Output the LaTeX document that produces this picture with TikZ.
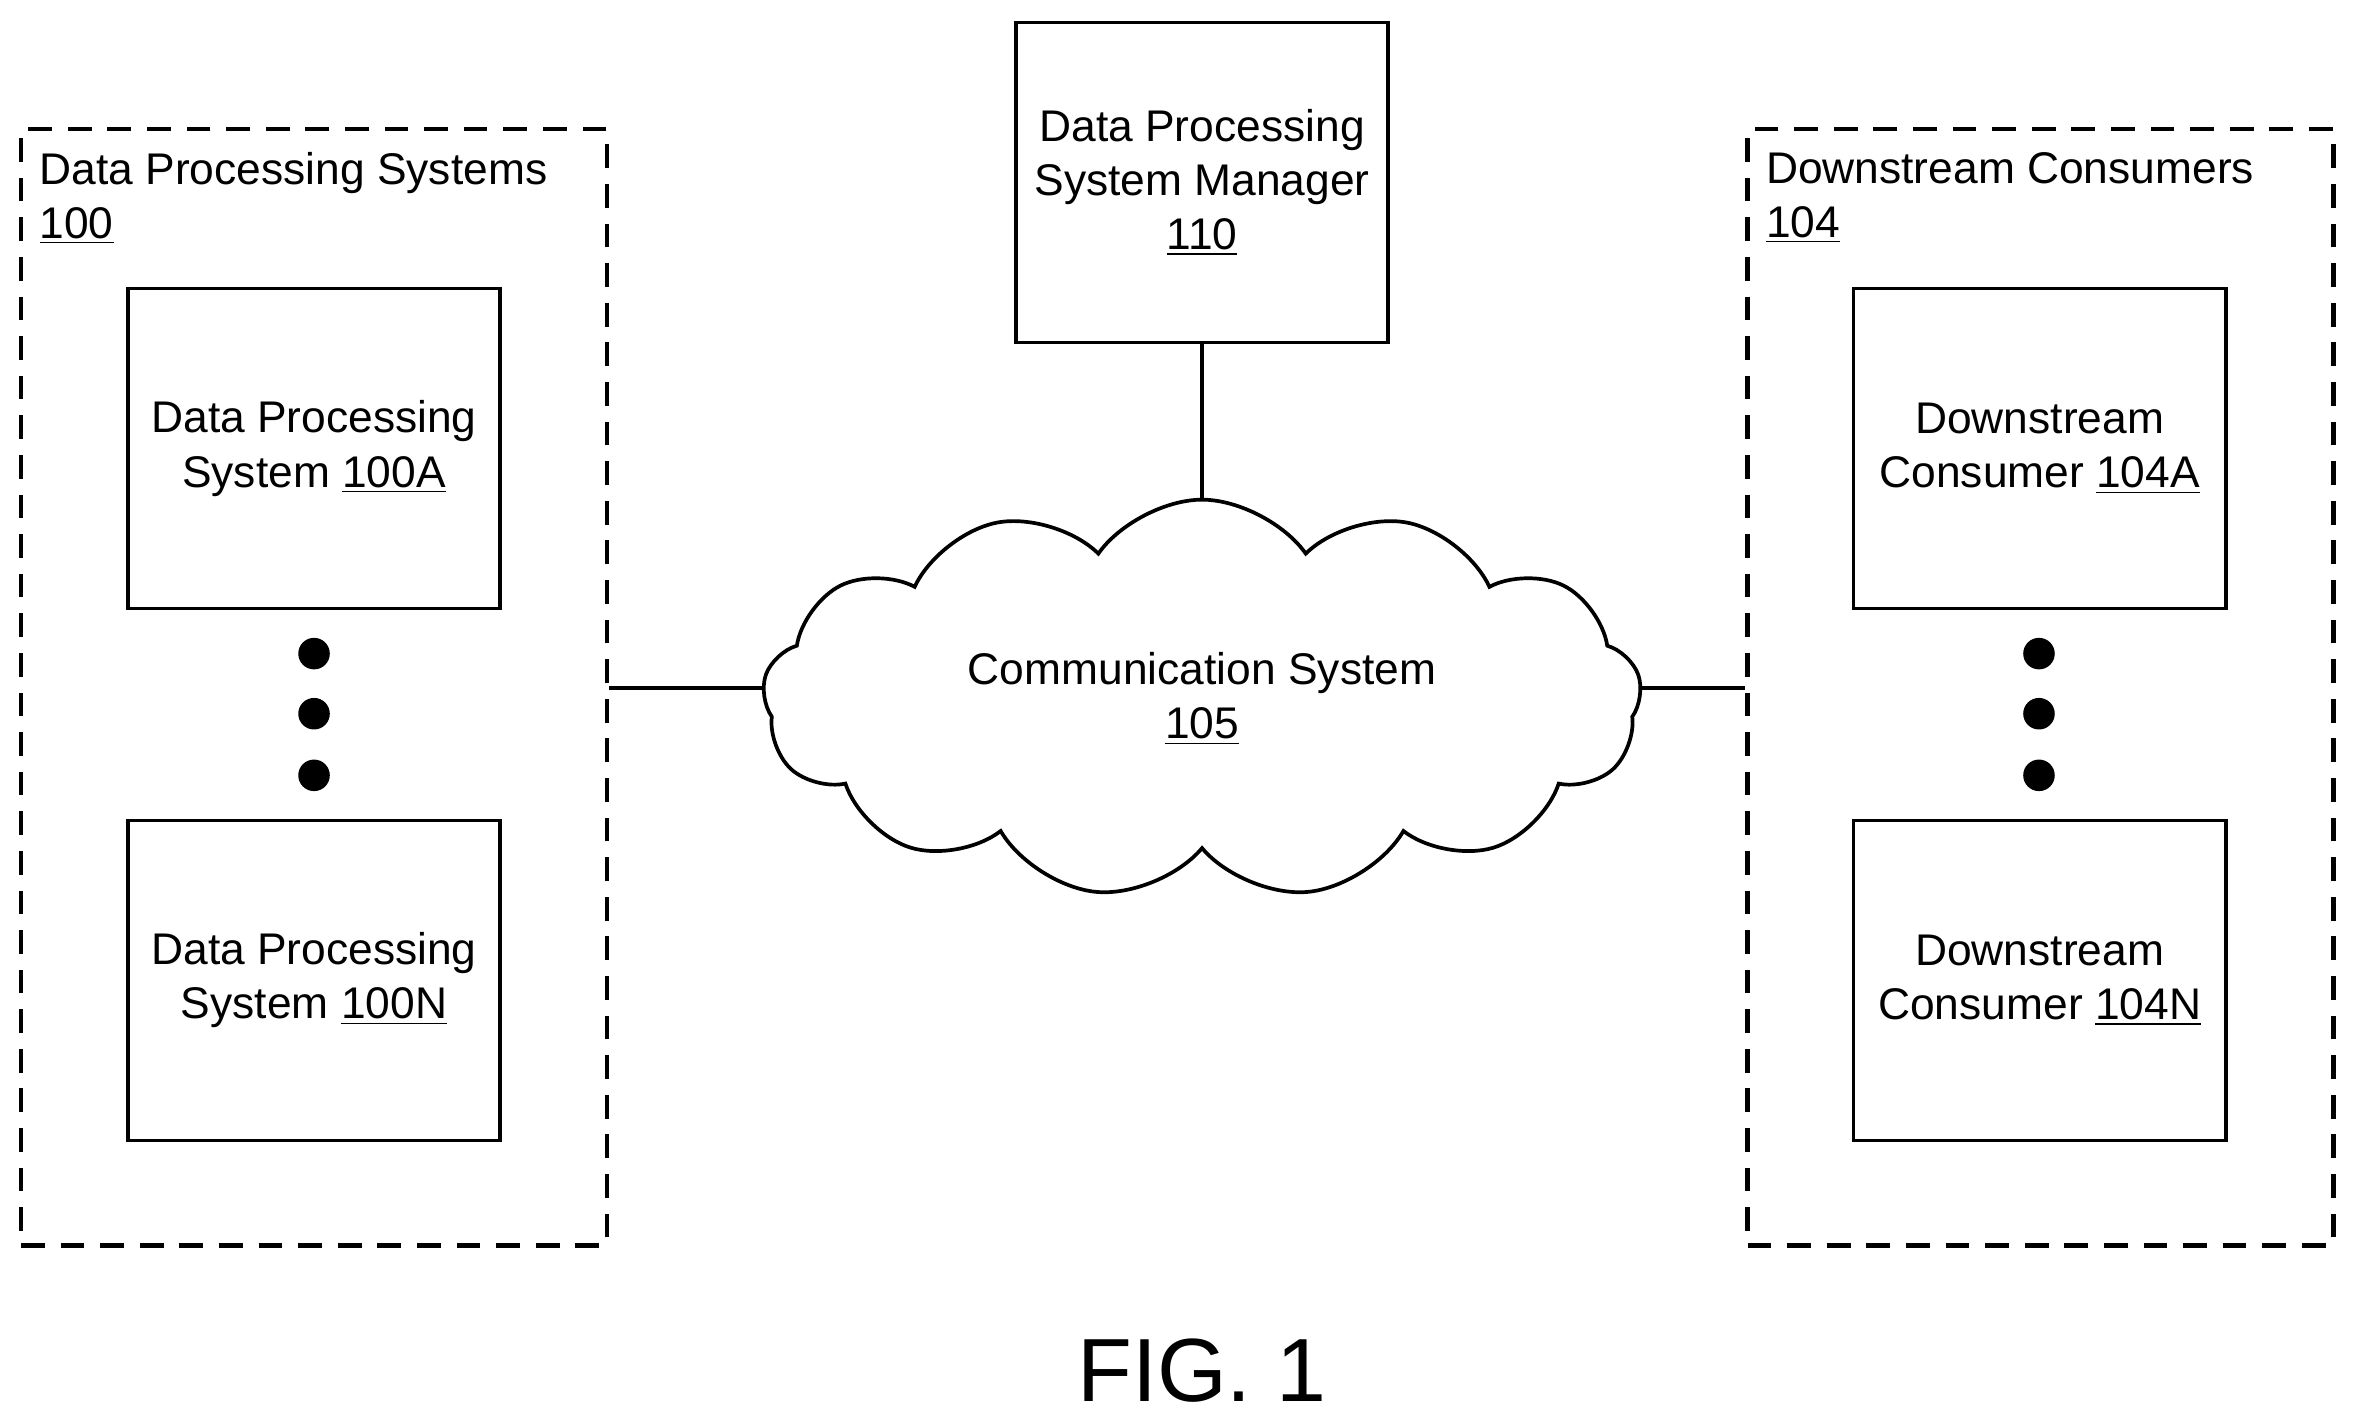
\documentclass[tikz,border=0pt]{standalone}
\usepackage{fontspec}
\setmainfont{Liberation Sans}
\usetikzlibrary{shapes.symbols}
\tikzset{
  box/.style={draw,line width=1.4pt,minimum width=4.96cm,minimum height=4.26cm,align=center,font=\fontsize{16.8}{20.5}\selectfont},
  group/.style={draw,dashed,dash pattern=on 9pt off 6pt,line width=1.6pt,minimum width=7.8cm,minimum height=14.86cm},
  dot/.style={circle,fill,inner sep=0pt,minimum size=0.42cm},
  label/.style={anchor=north west,align=left,inner sep=0pt,font=\fontsize{16.8}{20.5}\selectfont}
}
\begin{document}
\begin{tikzpicture}[x=0.02cm,y=-0.02cm]
\useasboundingbox (0,0) rectangle (1568,950);
%		left group
		\node[group] (dps) at (209,457.5) {};
		\node[label] (dpsl) at (26,101) {Data Processing Systems\\\underline{100}};
		\node[box] (dpsa) at (209,298.5) {Data Processing\\System \underline{100A}};
		\node[box] (dpsn) at (209,652.5) {Data Processing\\System \underline{100N}};
		\foreach \y in {435,475,516} \node[dot] at (209,\y) {};
%		right group
		\node[group] (dc) at (1358,457.5) {};
		\node[label] (dcl) at (1175,101) {Downstream Consumers\\\underline{104}};
		\node[box] (dca) at (1357.5,298.5) {Downstream\\Consumer \underline{104A}};
		\node[box] (dcn) at (1357.5,652.5) {Downstream\\Consumer \underline{104N}};
		\foreach \y in {435,475,516} \node[dot] at (1357,\y) {};
%		middle
		\node[box] (mgr) at (800,121.5) {Data Processing\\System Manager\\\underline{110}};
		\node[cloud,draw,line width=1.4pt,cloud puffs=13,cloud puff arc=110,aspect=2.3,minimum width=11.7cm,minimum height=5.3cm,inner sep=0pt,align=center,font=\fontsize{16.8}{20.5}\selectfont] (cs) at (800,465) {Communication System\\\underline{105}};
		\draw[line width=1.4pt] (mgr) -- (cs);
		\draw[line width=1.4pt] (dps.east |- 0,458) -- (cs.west |- 0,458);
		\draw[line width=1.4pt] (cs.east |- 0,458) -- (dc.west |- 0,458);
		\node[font=\fontsize{34}{40}\selectfont] (fig) at (800,912) {FIG. 1};
\end{tikzpicture}
\end{document}
